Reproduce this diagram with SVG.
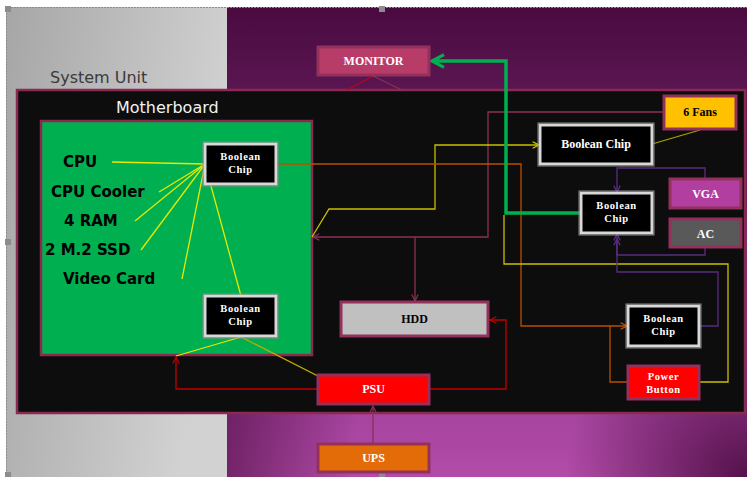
<svg xmlns="http://www.w3.org/2000/svg" width="747" height="477" viewBox="0 0 747 477">
<defs>
<linearGradient id="gGrey" x1="0" y1="0" x2="1" y2="0.3">
<stop offset="0" stop-color="#a6a6a6"/><stop offset="1" stop-color="#d2d2d2"/>
</linearGradient>
<linearGradient id="gPurple" x1="0" y1="0" x2="0" y2="1">
<stop offset="0" stop-color="#4a0a40"/><stop offset="0.35" stop-color="#6a2262"/><stop offset="0.8" stop-color="#a0409a"/><stop offset="1" stop-color="#b24ca8"/>
</linearGradient>
<radialGradient id="gCorner" cx="1" cy="1" r="0.35">
<stop offset="0" stop-color="#4a0a40" stop-opacity="0.9"/><stop offset="1" stop-color="#4a0a40" stop-opacity="0"/>
</radialGradient>
<linearGradient id="gLeftDark" x1="0" y1="0" x2="1" y2="0">
<stop offset="0" stop-color="#4a0a40" stop-opacity="0.6"/><stop offset="0.25" stop-color="#4a0a40" stop-opacity="0"/>
</linearGradient>
<marker id="aRed" viewBox="0 0 10 10" refX="9" refY="5" markerWidth="8" markerHeight="8" markerUnits="userSpaceOnUse" orient="auto"><path d="M1,1 L9,5 L1,9" fill="none" stroke="#c00000" stroke-width="1.5"/></marker>
<marker id="aMaroon" viewBox="0 0 10 10" refX="9" refY="5" markerWidth="8" markerHeight="8" markerUnits="userSpaceOnUse" orient="auto"><path d="M1,1 L9,5 L1,9" fill="none" stroke="#8b3055" stroke-width="1.5"/></marker>
<marker id="aYellow" viewBox="0 0 10 10" refX="9" refY="5" markerWidth="8" markerHeight="8" markerUnits="userSpaceOnUse" orient="auto"><path d="M1,1 L9,5 L1,9" fill="none" stroke="#d8d000" stroke-width="1.5"/></marker>
<marker id="aOrange" viewBox="0 0 10 10" refX="9" refY="5" markerWidth="8" markerHeight="8" markerUnits="userSpaceOnUse" orient="auto"><path d="M1,1 L9,5 L1,9" fill="none" stroke="#c05a00" stroke-width="1.5"/></marker>
<marker id="aPurple" viewBox="0 0 10 10" refX="9" refY="5" markerWidth="8" markerHeight="8" markerUnits="userSpaceOnUse" orient="auto"><path d="M1,1 L9,5 L1,9" fill="none" stroke="#5a2c80" stroke-width="1.6"/></marker>
<marker id="aGreen" viewBox="0 0 10 10" refX="8.5" refY="5" markerWidth="16" markerHeight="16" markerUnits="userSpaceOnUse" orient="auto"><path d="M1,1 L8.5,5 L1,9" fill="none" stroke="#00b050" stroke-width="2"/></marker>
</defs>
<style>
.box{stroke:#94305c;stroke-width:3}
.chip{fill:#000;stroke:#d8d8d8;stroke-width:3}
.chipo{fill:none;stroke:#8a8a8a;stroke-width:1}
.t{font-family:"Liberation Serif","Times New Roman",serif;font-weight:bold;font-size:12px;text-anchor:middle}
.t2{font-size:10.5px;letter-spacing:0.6px}
.w{fill:#fff}
.k{fill:#000}
.lbl{font-family:"DejaVu Sans",Verdana,sans-serif;font-weight:bold;font-size:15px;fill:#000}
.c{fill:none;stroke-width:1.3}
</style>
<rect width="747" height="477" fill="#fff"/>
<rect x="6" y="7" width="221" height="470" fill="url(#gGrey)"/>
<rect x="227" y="7" width="520" height="470" fill="url(#gPurple)"/>
<rect x="227" y="7" width="520" height="470" fill="url(#gCorner)"/>
<rect x="227" y="413" width="520" height="64" fill="url(#gLeftDark)"/>
<path d="M6.5,477 V7.5 H747" fill="none" stroke="#8c8c8c" stroke-width="1" stroke-dasharray="2,1"/>
<g fill="#8c8c8c">
<rect x="5" y="6" width="6" height="6"/><rect x="379" y="6" width="6" height="6"/><rect x="5" y="239" width="6" height="6"/><rect x="5" y="472" width="6" height="5"/><rect x="379" y="472" width="6" height="5"/>
</g>
<text x="50" y="83" font-family="DejaVu Sans,Verdana,sans-serif" font-size="16" fill="#3a3a3a">System Unit</text>

<g id="system-unit">
<rect x="17" y="90" width="728" height="323" fill="#0d0d0d" stroke="#8b2a50" stroke-width="2.5"/>
<text x="116" y="113" font-family="DejaVu Sans,Verdana,sans-serif" font-size="16" fill="#f2f2f2">Motherboard</text>
</g>
<g id="motherboard">
<rect x="41" y="121" width="271" height="234" fill="#00b050" stroke="#8b2a50" stroke-width="2.5"/>
<text class="lbl" x="63" y="167">CPU</text>
<text class="lbl" x="51" y="197">CPU Cooler</text>
<text class="lbl" x="64" y="226">4 RAM</text>
<text class="lbl" x="45" y="255">2 M.2 SSD</text>
<text class="lbl" x="63" y="284">Video Card</text>
</g>

<g id="connectors">
<g stroke="#e8e800" stroke-width="1.3" fill="none">
<path d="M205,164 L112,162"/>
<path d="M205,164 L159,192"/>
<path d="M205,164 L135,221"/>
<path d="M205,164 L141,250"/>
<path d="M205,164 L182,279"/>
<path d="M205,164 L241,296"/>
<path d="M241,337 L176,356"/>
</g>
<path d="M241,337 L373,404" stroke="#c8a800" stroke-width="1.3" fill="none"/>
<path class="c" d="M318,389 H176 V357" stroke="#c00000" marker-end="url(#aRed)"/>
<path class="c" d="M430,389 H506 V320 H490" stroke="#c00000" marker-end="url(#aRed)"/>
<path class="c" d="M373,443 V406" stroke="#8b3055" marker-end="url(#aMaroon)"/>
<path class="c" d="M373,76 L347,90" stroke="#c00020"/>
<path class="c" d="M373,76 L402,90" stroke="#8b3055"/>
<path class="c" d="M664,112 H488 V237 H313" stroke="#8b3055" marker-end="url(#aMaroon)"/>
<path class="c" d="M415,237 V301" stroke="#8b3055" marker-end="url(#aMaroon)"/>
<path class="c" d="M312,237 L329,209 H435 V145 H539" stroke="#c8c000" marker-end="url(#aYellow)"/>
<path class="c" d="M276,164 H521 V326 H627" stroke="#b85000" marker-end="url(#aOrange)"/>
<path class="c" d="M610,326 V382 H628" stroke="#b85000"/>
<path class="c" d="M652,144 L700,130" stroke="#b0a000"/>
<path class="c" d="M699,382 H728 V264 H504 V215" stroke="#c8c000"/>
<path class="c" d="M705,178 V168 H617 V192" stroke="#5a2c80" stroke-width="1.6" marker-end="url(#aPurple)"/>
<path class="c" d="M705,247 V255 H617 V234" stroke="#5a2c80" stroke-width="1.6" marker-end="url(#aPurple)"/>
<path class="c" d="M699,326 H718 V272 H617 V239" stroke="#5a2c80" stroke-width="1.6" marker-end="url(#aPurple)"/>
<path d="M580,213 H506 V61 H432" fill="none" stroke="#00b050" stroke-width="3.5" marker-end="url(#aGreen)"/>
</g>

<g id="chip-top">
<rect class="chip" x="205" y="144" width="71" height="40"/><rect class="chipo" x="203" y="142" width="75" height="44"/>
<text class="t t2 w" x="240.5" y="160">Boolean</text><text class="t t2 w" x="240.5" y="173">Chip</text>
</g>
<g id="chip-bottom">
<rect class="chip" x="205" y="296" width="71" height="40"/><rect class="chipo" x="203" y="294" width="75" height="44"/>
<text class="t t2 w" x="240.5" y="312">Boolean</text><text class="t t2 w" x="240.5" y="325">Chip</text>
</g>
<g id="chip-fans">
<rect class="chip" x="540" y="125" width="112" height="39"/><rect class="chipo" x="538" y="123" width="116" height="43"/>
<text class="t w" x="596" y="148">Boolean Chip</text>
</g>
<g id="chip-middle">
<rect class="chip" x="581" y="193" width="71" height="40"/><rect class="chipo" x="579" y="191" width="75" height="44"/>
<text class="t t2 w" x="616.5" y="209">Boolean</text><text class="t t2 w" x="616.5" y="222">Chip</text>
</g>
<g id="chip-power">
<rect class="chip" x="628" y="306" width="71" height="40"/><rect class="chipo" x="626" y="304" width="75" height="44"/>
<text class="t t2 w" x="663.5" y="322">Boolean</text><text class="t t2 w" x="663.5" y="335">Chip</text>
</g>
<g id="monitor">
<rect class="box" x="318" y="47" width="111" height="28" fill="#b83c68"/>
<text class="t w" x="373.5" y="65">MONITOR</text>
</g>
<g id="fans">
<rect class="box" x="664" y="96" width="72" height="33" fill="#ffc000"/>
<text class="t k" x="700" y="116" font-size="11">6 Fans</text>
</g>
<g id="vga">
<rect class="box" x="670" y="179" width="71" height="29" fill="#b23ea0"/>
<text class="t w" x="705.5" y="198">VGA</text>
</g>
<g id="ac">
<rect class="box" x="670" y="219" width="71" height="28" fill="#595959"/>
<text class="t w" x="705.5" y="238">AC</text>
</g>
<g id="hdd">
<rect class="box" x="341" y="302" width="147" height="34" fill="#c0c0c0"/>
<text class="t k" x="414.5" y="323">HDD</text>
</g>
<g id="psu">
<rect class="box" x="318" y="375" width="111" height="29" fill="#ff0000"/>
<text class="t w" x="373.5" y="393">PSU</text>
</g>
<g id="ups">
<rect class="box" x="318" y="444" width="111" height="28" fill="#e36c09"/>
<text class="t w" x="373.5" y="462">UPS</text>
</g>
<g id="power-button">
<rect class="box" x="628" y="366" width="71" height="33" fill="#ff0000"/>
<text class="t t2 w" x="663.5" y="380">Power</text><text class="t t2 w" x="663.5" y="393">Button</text>
</g>
</svg>
